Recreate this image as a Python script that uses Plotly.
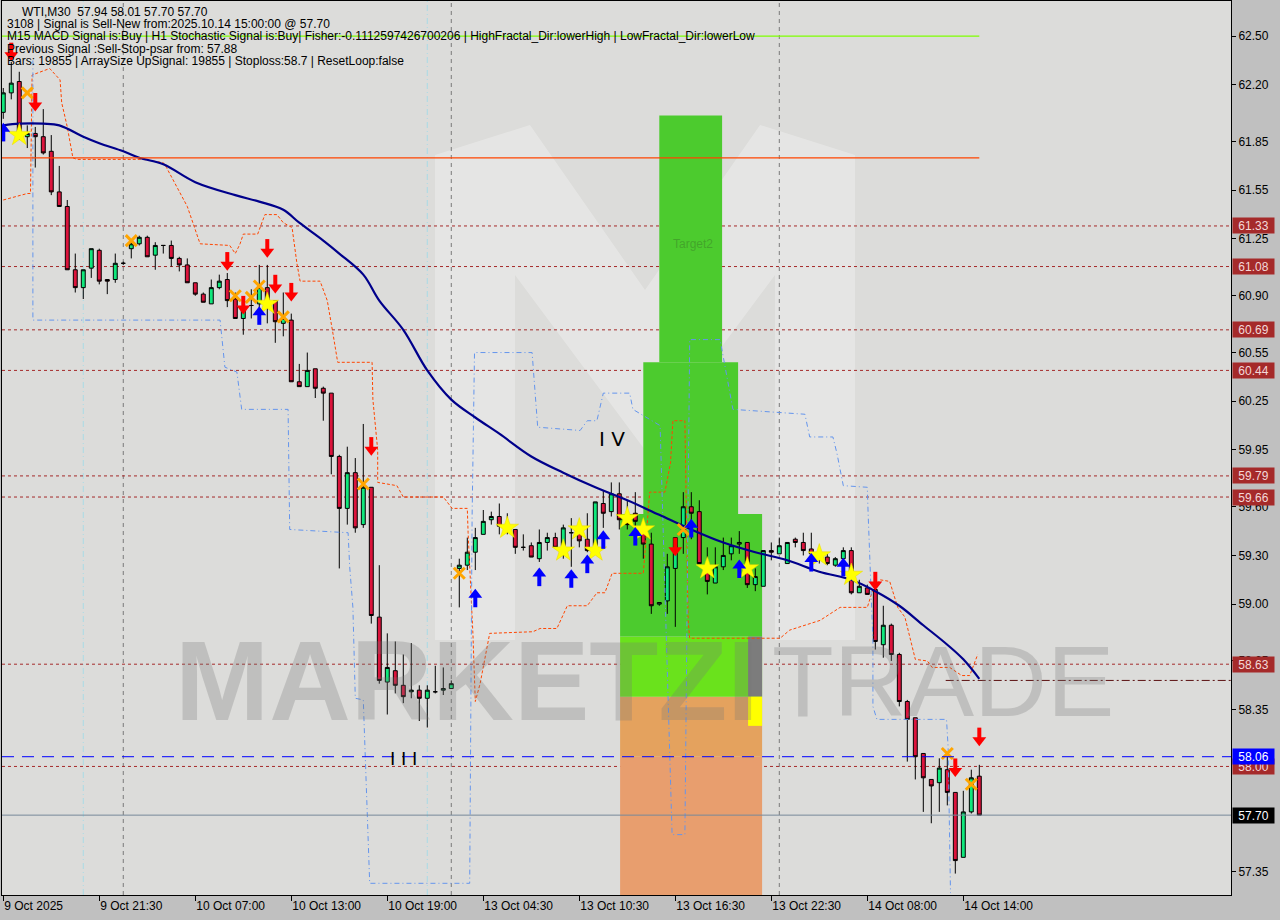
import plotly.graph_objects as go

# ---------------- data ----------------
opens = [62.03,62.15,62.22,61.88,61.90,61.88,61.79,61.54,61.45,61.06,60.95,61.07,61.18,61.00,61.00,61.10,61.19,61.22,61.26,61.15,
         61.21,61.21,61.13,61.09,60.98,60.91,60.85,60.95,61.00,60.88,60.76,60.84,60.85,60.95,60.87,60.73,60.75,60.37,60.34,60.45,
         60.33,60.30,59.91,59.59,59.81,59.49,59.72,58.92,58.52,58.59,58.50,58.46,58.47,58.42,58.46,58.47,58.48,59.22,59.24,59.32,
         59.43,59.52,59.54,59.48,59.46,59.35,59.36,59.28,59.38,59.41,59.36,59.44,59.44,59.40,59.36,59.62,59.57,59.68,59.52,59.56,
         59.46,59.37,59.00,59.02,59.22,59.41,59.60,59.57,59.20,59.13,59.23,59.31,59.37,59.38,59.12,59.11,59.33,59.31,59.25,59.40,
         59.38,59.34,59.31,59.29,59.24,59.28,59.33,59.07,59.10,59.09,58.75,58.87,58.69,58.40,58.30,58.08,57.92,57.90,57.98,57.84,
         57.44,57.72,57.94]
highs = [62.18,62.34,62.28,61.95,61.94,62.05,61.89,61.70,61.49,61.16,61.06,61.19,61.19,61.00,61.16,61.11,61.24,61.27,61.27,61.23,
         61.21,61.24,61.14,61.13,60.98,60.92,61.00,61.03,61.04,60.92,60.86,60.94,61.09,61.09,60.87,60.92,60.79,60.48,60.55,60.45,
         60.34,60.30,59.92,59.97,59.90,60.11,59.72,59.24,58.82,58.77,58.69,58.76,58.50,58.50,58.62,58.61,58.53,59.28,59.41,59.47,
         59.58,59.57,59.62,59.56,59.46,59.43,59.38,59.46,59.44,59.44,59.49,59.53,59.49,59.56,59.63,59.70,59.75,59.75,59.64,59.69,
         59.50,59.44,59.01,59.31,59.41,59.69,59.69,59.64,59.35,59.35,59.41,59.41,59.45,59.38,59.22,59.33,59.38,59.41,59.38,59.41,
         59.44,59.44,59.33,59.31,59.29,59.35,59.35,59.15,59.12,59.15,58.99,58.88,58.70,58.41,58.30,58.08,57.92,58.05,58.06,57.84,
         57.85,57.98,58.01]
lows = [61.99,62.11,61.86,61.81,61.69,61.77,61.52,61.45,61.06,60.92,60.88,61.01,60.97,60.91,60.98,61.09,61.13,61.21,61.14,61.06,
        61.16,61.08,61.05,60.98,60.90,60.86,60.85,60.94,60.83,60.76,60.66,60.76,60.77,60.73,60.61,60.65,60.37,60.34,60.34,60.27,
        60.13,59.80,59.22,59.49,59.44,59.47,58.88,58.51,58.32,58.45,58.39,58.42,58.28,58.24,58.45,58.44,58.48,58.98,59.21,59.21,
        59.43,59.49,59.43,59.43,59.31,59.33,59.29,59.26,59.33,59.35,59.28,59.23,59.35,59.32,59.33,59.47,59.54,59.46,59.46,59.44,
        59.28,58.94,58.99,58.94,58.86,59.31,59.40,59.25,59.06,59.13,59.21,59.27,59.31,59.10,59.08,59.11,59.27,59.31,59.25,59.35,
        59.30,59.21,59.25,59.24,59.23,59.27,59.06,59.07,59.06,58.72,58.67,58.65,58.37,58.03,57.92,57.72,57.65,57.72,57.76,57.34,
        57.44,57.71,57.70]
closes = [62.15,62.21,61.89,61.90,61.88,61.78,61.54,61.45,61.06,60.95,61.06,61.19,60.99,60.99,61.10,61.10,61.22,61.26,61.14,61.21,
          61.21,61.13,61.09,60.98,60.91,60.86,60.95,60.99,60.87,60.76,60.81,60.84,60.95,60.85,60.74,60.76,60.37,60.34,60.44,60.33,
          60.30,59.91,59.59,59.81,59.47,59.72,58.93,58.53,58.61,58.50,58.43,58.47,58.42,58.47,58.46,58.48,58.51,59.24,59.32,59.41,
          59.51,59.54,59.48,59.46,59.35,59.35,59.29,59.38,59.41,59.35,59.47,59.44,59.39,59.33,59.63,59.56,59.68,59.52,59.49,59.51,
          59.37,58.99,59.01,59.23,59.41,59.60,59.56,59.25,59.14,59.23,59.30,59.36,59.38,59.12,59.17,59.33,59.32,59.36,59.38,59.38,
          59.33,59.31,59.28,59.25,59.28,59.33,59.07,59.11,59.06,58.77,58.87,58.69,58.40,58.29,58.06,57.93,57.88,57.99,57.84,57.42,
          57.72,57.93,57.70]
bars = list(range(len(opens)))

tick_bars = [0, 12, 24, 36, 48, 60, 72, 84, 96, 108, 120]
tick_labels = ["9 Oct 2025", "9 Oct 21:30", "10 Oct 07:00", "10 Oct 13:00", "10 Oct 19:00", "13 Oct 04:30",
               "13 Oct 10:30", "13 Oct 16:30", "13 Oct 22:30", "14 Oct 08:00", "14 Oct 14:00"]
price_ticks = [62.50, 62.20, 61.85, 61.55, 61.25, 60.90, 60.55, 60.25, 59.95, 59.60, 59.30, 59.00, 58.65, 58.35, 57.35]

ma_x = [0,2,5,7,10,12,15,17,20,24,29,32,35,37,40,42,45,47,50,53,56,59,62,66,70,74,78,82,86,90,94,98,102,106,109,112,115,118,120,122]
ma_y = [61.95,61.96,61.96,61.95,61.88,61.84,61.79,61.75,61.71,61.60,61.52,61.48,61.43,61.35,61.24,61.16,61.03,60.87,60.69,60.44,
        60.26,60.15,60.05,59.91,59.81,59.72,59.64,59.55,59.46,59.38,59.32,59.27,59.20,59.15,59.08,58.99,58.87,58.75,58.66,58.54]

upper_x = [0,3,3.4,3.6,5.8,7.1,7.3,8,8.7,9.2,17.5,20,20.4,23,24.6,28.3,29,29.6,30,31.8,32.7,34.2,35,36.1,36.7,37.1,39.6,40.5,41.2,
           41.8,46.1,46.2,46.8,46.8,49.2,50,55,56.1,58,58.1,58.7,59,59.6,60.8,66.2,67.1,69.2,70.5,73,74.2,75.2,76.1,80,80.8,82.7,
           83.4,83.7,85.2,85.6,85.8,97.1,98.3,102.1,104.6,108,108.7,109.6,110.8,111.8,112.7,114,115.5,116.1,118.3,119.8,120.8,121.8]
upper_y = [61.49,61.53,61.53,62.26,62.30,62.23,62.09,61.94,61.75,61.74,61.74,61.72,61.69,61.45,61.22,61.21,61.16,61.22,61.28,61.28,
           61.40,61.40,61.35,61.32,61.10,60.99,60.99,60.87,60.67,60.49,60.49,60.26,59.95,59.75,59.73,59.66,59.66,59.59,59.59,59.44,
           58.82,58.40,58.51,58.82,58.83,58.85,58.85,58.99,58.99,59.07,59.07,59.19,59.19,59.69,59.69,59.87,60.13,60.13,58.90,58.79,
           58.79,58.84,58.90,58.98,58.98,59.09,59.15,59.14,58.98,58.92,58.66,58.65,58.61,58.61,58.56,58.56,58.69]
lower_x = [3.7,3.7,27.1,27.7,29.2,29.8,35.6,35.8,43.1,43.3,43.7,44,45,45.2,45.8,58.3,58.6,58.9,66.1,66.8,72.1,73,74.2,75,78.3,78.7,
           82.1,83.6,85.2,85.8,89.6,91.2,100.2,100.8,103.7,104.2,105,108,108.1,108.7,108.7,109.2,117.9,118.1,118.4]
lower_y = [62.35,60.75,60.75,60.46,60.43,60.20,60.20,59.46,59.44,59.23,58.98,58.42,58.41,58.11,57.28,57.28,59.54,60.55,60.55,60.09,
           60.07,60.13,60.13,60.30,60.30,60.20,60.10,57.58,57.58,60.63,60.63,60.20,60.17,60.03,60.03,59.93,59.73,59.72,59.56,58.78,
           58.37,58.29,58.29,58.12,57.22]

sell_x = [1, 4, 28, 33, 30, 34, 36, 46, 84, 109, 119, 122]
sell_y = [62.40, 62.09, 61.11, 61.19, 60.84, 60.97, 60.92, 59.97, 59.35, 59.14, 57.99, 58.18]
buy_x = [0, 32, 59, 67, 71, 73, 75, 79, 86, 92, 101, 105]
buy_y = [61.91, 60.78, 59.04, 59.17, 59.16, 59.25, 59.40, 59.42, 59.47, 59.22, 59.26, 59.23]
star_x = [2, 33, 63, 70, 72, 74, 78, 80, 88, 93, 102, 106]
star_y = [61.89, 60.85, 59.47, 59.33, 59.46, 59.33, 59.53, 59.46, 59.22, 59.22, 59.30, 59.18]
cross_x = [3, 16, 29, 31, 32, 35, 45, 57, 85, 118, 121]
cross_y = [62.15, 61.24, 60.90, 60.89, 60.96, 60.77, 59.74, 59.19, 59.46, 58.08, 57.89]

levels = [61.33, 61.08, 60.69, 60.44, 59.79, 59.66, 58.63, 58.00]
resistance_line = 61.75
top_line = 62.50
entry_line = 58.06
last_price = 57.70
stop_line = 58.53

day_separators = [15, 56, 97]
cyan_separators = [10, 53]

# zones: (x0, x1, y0, y1, colour)
zones = [
    (77.1, 94.85, 58.06, 57.0, "#e89e6e"),
    (77.1, 94.85, 58.43, 58.06, "#e4a25e"),
    (77.1, 94.85, 58.80, 58.43, "#6ae21c"),
    (77.1, 94.85, 59.555, 58.80, "#4ccb2e"),
    (80.0, 91.85, 60.49, 59.555, "#4ccb2e"),
    (82.0, 89.85, 62.01, 60.49, "#4ccb2e"),
    (93.1, 94.85, 58.80, 58.43, "#7c7c7c"),
    (93.1, 94.85, 58.43, 58.25, "#ffff00"),
]

header = [
    "WTI,M30  57.94 58.01 57.70 57.70",
    "3108 | Signal is Sell-New from:2025.10.14 15:00:00 @ 57.70",
    "M15 MACD Signal is:Buy | H1 Stochastic Signal is:Buy| Fisher:-0.1112597426700206 | HighFractal_Dir:lowerHigh | LowFractal_Dir:lowerLow",
    "Previous Signal :Sell-Stop-psar from: 57.88",
    "Bars: 19855 | ArraySize UpSignal: 19855 | Stoploss:58.7 | ResetLoop:false",
]
header_x = [20, 5, 5, 5, 5]

# ---------------- layout geometry ----------------
W, H = 1280, 920
ML, MR, MT, MB = 2, 49, 1, 25
PW, PH = W - ML - MR, H - MT - MB
X_RANGE = [-0.16, 153.46]
Y_RANGE = [57.208, 62.716]
PPX = (Y_RANGE[1] - Y_RANGE[0]) / PH  # price per pixel


def px(xp):
    return (xp - ML) / PW


def py(yp):
    return 1 - (yp - MT) / PH


fig = go.Figure()
FONT = "Liberation Sans, Arial, sans-serif"

shapes = []
# watermark M logo (decorative)
logo = [(435, 640), (435, 155), (530, 125), (645, 290), (760, 125), (855, 155), (855, 640), (775, 640), (775, 275),
        (645, 450), (515, 275), (515, 640)]
path = "M " + " L ".join(f"{px(a):.4f},{py(b):.4f}" for a, b in logo) + " Z"
shapes.append(dict(type="path", xref="paper", yref="paper", path=path, fillcolor="rgba(255,255,255,0.28)",
                   line=dict(width=0), layer="below"))

for x0, x1, y0, y1, c in zones:
    shapes.append(dict(type="rect", xref="x", yref="y", x0=x0, x1=x1, y0=y0, y1=y1, fillcolor=c,
                       line=dict(width=0), layer="below"))

for d in day_separators:
    shapes.append(dict(type="line", xref="x", yref="paper", x0=d, x1=d, y0=0, y1=1,
                       line=dict(color="#7a7a7a", width=1, dash="4px,4px"), layer="below"))
for d in cyan_separators:
    shapes.append(dict(type="line", xref="x", yref="paper", x0=d, x1=d, y0=0, y1=1,
                       line=dict(color="#a9dbe6", width=1, dash="6px,3px,1px,3px"), layer="below"))

for lv in levels:
    shapes.append(dict(type="line", xref="paper", yref="y", x0=0, x1=1, y0=lv, y1=lv,
                       line=dict(color="#a52a2a", width=1, dash="3px,3px"), layer="below"))

shapes.append(dict(type="line", xref="x", yref="y", x0=X_RANGE[0], x1=122, y0=resistance_line, y1=resistance_line,
                   line=dict(color="#ff4500", width=1.2)))
shapes.append(dict(type="line", xref="x", yref="y", x0=X_RANGE[0], x1=122, y0=top_line, y1=top_line,
                   line=dict(color="#7fff00", width=1.2)))
shapes.append(dict(type="line", xref="paper", yref="y", x0=0, x1=1, y0=entry_line, y1=entry_line,
                   line=dict(color="#0000ff", width=1, dash="12px,8px")))
shapes.append(dict(type="line", xref="paper", yref="y", x0=0, x1=1, y0=last_price, y1=last_price,
                   line=dict(color="#778899", width=1)))
shapes.append(dict(type="line", xref="x", yref="y", x0=117.8, x1=X_RANGE[1], y0=stop_line, y1=stop_line,
                   line=dict(color="#5a1010", width=1, dash="8px,3px,2px,3px")))

# traces
fig.add_trace(go.Scatter(x=upper_x, y=upper_y, mode="lines", line=dict(color="#ff4500", width=1, dash="3px,2px"),
                         hoverinfo="skip", showlegend=False))
fig.add_trace(go.Scatter(x=lower_x, y=lower_y, mode="lines", line=dict(color="#6495ed", width=1, dash="5px,3px,1px,3px"),
                         hoverinfo="skip", showlegend=False))
fig.add_trace(go.Candlestick(x=bars, open=opens, high=highs, low=lows, close=closes,
                             increasing=dict(fillcolor="#10e87c", line=dict(color="#000000", width=1)),
                             decreasing=dict(fillcolor="#dc143c", line=dict(color="#000000", width=1)),
                             whiskerwidth=0, hoverinfo="skip", showlegend=False))
fig.add_trace(go.Scatter(x=ma_x, y=ma_y, mode="lines", line=dict(color="#00008b", width=2.2, shape="spline"),
                         hoverinfo="skip", showlegend=False))
fig.add_trace(go.Scatter(x=star_x, y=star_y, mode="markers",
                         marker=dict(symbol="star", size=17, color="#ffff00", line=dict(color="#e8d800", width=0.5)),
                         hoverinfo="skip", showlegend=False))
fig.add_trace(go.Scatter(x=cross_x, y=cross_y, mode="markers",
                         marker=dict(symbol="x-thin", size=11, color="#ffa500", line=dict(color="#ffa500", width=3)),
                         hoverinfo="skip", showlegend=False))
# arrows: stem (offset a few pixels) + head
fig.add_trace(go.Scatter(x=sell_x, y=[v + 4 * PPX for v in sell_y], mode="markers",
                         marker=dict(symbol="line-ns", size=8, color="#ff0000", line=dict(color="#ff0000", width=4)),
                         hoverinfo="skip", showlegend=False))
fig.add_trace(go.Scatter(x=sell_x, y=[v - 3 * PPX for v in sell_y], mode="markers",
                         marker=dict(symbol="triangle-down", size=12, color="#ff0000", line=dict(color="#ff0000", width=0)),
                         hoverinfo="skip", showlegend=False))
fig.add_trace(go.Scatter(x=buy_x, y=[v - 4 * PPX for v in buy_y], mode="markers",
                         marker=dict(symbol="line-ns", size=8, color="#0000ff", line=dict(color="#0000ff", width=4)),
                         hoverinfo="skip", showlegend=False))
fig.add_trace(go.Scatter(x=buy_x, y=[v + 3 * PPX for v in buy_y], mode="markers",
                         marker=dict(symbol="triangle-up", size=12, color="#0000ff", line=dict(color="#0000ff", width=0)),
                         hoverinfo="skip", showlegend=False))

annotations = []
# watermark text
annotations.append(dict(xref="paper", yref="paper", x=px(173), y=py(681), xanchor="left", yanchor="middle",
                        text="<b>MARKETZI</b>", showarrow=False,
                        font=dict(family=FONT, size=113, color="rgba(120,120,120,0.28)")))
annotations.append(dict(xref="paper", yref="paper", x=px(770), y=py(681), xanchor="left", yanchor="middle",
                        text="TRADE", showarrow=False,
                        font=dict(family=FONT, size=101, color="rgba(120,120,120,0.28)")))
annotations.append(dict(xref="x", yref="y", x=86.2, y=61.22, text="Target2", showarrow=False,
                        font=dict(family=FONT, size=12, color="rgba(60,140,40,0.6)")))
annotations.append(dict(xref="x", yref="y", x=76.1, y=60.02, text="I V", showarrow=False,
                        font=dict(family="DejaVu Sans, sans-serif", size=20, color="#000000")))
annotations.append(dict(xref="x", yref="y", x=50, y=58.05, text="I I I", showarrow=False,
                        font=dict(family="DejaVu Sans, sans-serif", size=18, color="#000000")))

for k, line in enumerate(header):
    annotations.append(dict(xref="paper", yref="paper", x=px(header_x[k]), y=py(12 + 12.2 * k), xanchor="left",
                            yanchor="middle", text=line, showarrow=False,
                            font=dict(family=FONT, size=12, color="#000000")))

for lv in levels:
    annotations.append(dict(xref="paper", yref="y", x=1, y=lv, xanchor="left", xshift=1, yanchor="middle",
                            text=f"{lv:.2f}", showarrow=False, bgcolor="#a52a2a", width=39, height=13,
                            font=dict(family=FONT, size=12, color="#f3d8d8"), borderpad=1))
annotations.append(dict(xref="paper", yref="y", x=1, y=entry_line, xanchor="left", xshift=1, yanchor="middle",
                        text=f"{entry_line:.2f}", showarrow=False, bgcolor="#0000ff", width=39, height=13,
                        font=dict(family=FONT, size=12, color="#ffffff"), borderpad=1))
annotations.append(dict(xref="paper", yref="y", x=1, y=last_price, xanchor="left", xshift=1, yanchor="middle",
                        text=f"{last_price:.2f}", showarrow=False, bgcolor="#000000", width=39, height=13,
                        font=dict(family=FONT, size=12, color="#ffffff"), borderpad=1))

fig.update_layout(
    width=W, height=H,
    margin=dict(l=ML, r=MR, t=MT, b=MB, pad=0),
    paper_bgcolor="#c0c0c0",
    plot_bgcolor="#dcdcda",
    shapes=shapes,
    annotations=annotations,
    showlegend=False,
    hovermode=False,
    xaxis=dict(range=X_RANGE, rangeslider=dict(visible=False), showgrid=False, zeroline=False,
               tickvals=tick_bars, ticktext=tick_labels, ticks="outside", ticklen=5, tickcolor="#000000",
               ticklabelposition="outside right", tickfont=dict(family=FONT, size=12, color="#000000"),
               showline=True, linecolor="#000000", linewidth=1, mirror=True),
    yaxis=dict(range=Y_RANGE, side="right", showgrid=False, zeroline=False,
               tickvals=price_ticks, ticktext=[f"{v:.2f}" for v in price_ticks], ticks="outside", ticklen=4,
               tickcolor="#000000", tickfont=dict(family=FONT, size=12, color="#000000"),
               showline=True, linecolor="#000000", linewidth=1, mirror=True),
)

fig.write_html("out.html", config={"displayModeBar": False},
               post_script="document.body.style.margin='0';document.body.style.background='#c0c0c0';")
